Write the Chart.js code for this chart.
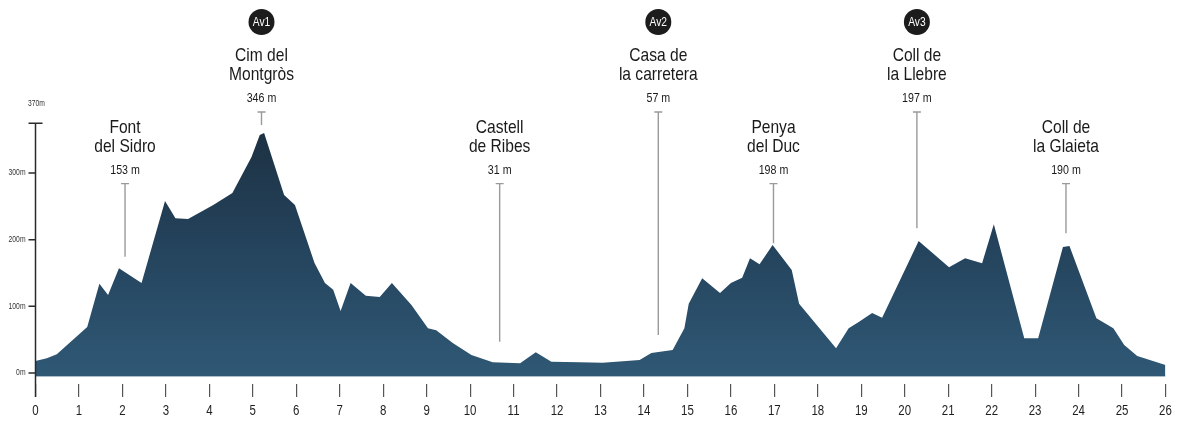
<!DOCTYPE html>
<html>
<head>
<meta charset="utf-8">
<script src="https://cdn.jsdelivr.net/npm/chart.js@4.4.1/dist/chart.umd.min.js"></script>
<style>
html,body{margin:0;padding:0;background:#fff;}
#wrap{width:1179px;height:435px;position:relative;}
</style>
</head>
<body>
<div id="wrap"><canvas id="c" width="1179" height="435"></canvas></div>
<script>
// ---- data ----
const distanceKm = [0, 0.26, 0.49, 1.19, 1.47, 1.67, 1.92, 2.44, 2.98, 3.22, 3.51, 4.09, 4.53, 4.97, 5.16, 5.26, 5.72, 5.97, 6.42, 6.66, 6.85, 7.02, 7.25, 7.60, 7.92, 8.20, 8.65, 9.03, 9.22, 9.60, 10.03, 10.52, 11.15, 11.51, 11.87, 12.52, 13.05, 13.9, 14.17, 14.66, 14.93, 15.03, 15.34, 15.75, 16.0, 16.26, 16.44, 16.66, 16.96, 17.40, 17.57, 18.42, 18.71, 18.95, 19.25, 19.48, 20.32, 21.02, 21.39, 21.78, 22.05, 22.75, 23.07, 23.64, 23.79, 24.41, 24.8, 25.05, 25.35, 26.0];
const elevationM = [18, 22, 28, 69, 134, 117, 157, 135, 258, 232, 231, 252, 270, 324, 357, 360, 267, 252, 165, 135, 125, 93, 135, 116, 114, 135, 102, 67, 64, 45, 27, 16, 14.5, 31, 17, 16, 15.5, 19.5, 30, 34.5, 67, 104, 142, 120, 135, 143, 172, 163, 192, 154.5, 104, 37, 67, 77, 90, 83, 198, 158.5, 172, 164.5, 223, 52, 52, 189, 190.5, 82, 67, 42, 25.5, 12];

const yTickValues = [0, 100, 200, 300];
const yTickLabels = ['0m', '100m', '200m', '300m'];
const yAxisTopValue = 370;
const yAxisTopLabel = '370m';

const markerKm = [2.06, 5.20, 10.68, 14.33, 16.98, 20.28, 23.71];
const markerNameLine1 = ['Font', 'Cim del', 'Castell', 'Casa de', 'Penya', 'Coll de', 'Coll de'];
const markerNameLine2 = ['del Sidro', 'Montgròs', 'de Ribes', 'la carretera', 'del Duc', 'la Llebre', 'la Glaieta'];
const markerElevLabel = ['153 m', '346 m', '31 m', '57 m', '198 m', '197 m', '190 m'];
const markerBadge = ['', 'Av1', '', 'Av2', '', 'Av3', ''];
const markerTopM = [284, 391.5, 284, 391.5, 284, 391.5, 284];
const markerEndM = [174.5, 372, 47, 57, 194.5, 217, 209.5];

const BASE_M = -4.5;
const FONT = '"Liberation Sans", Arial, sans-serif';

const profile = distanceKm.map((x, i) => ({x: x, y: elevationM[i]}));

function condText(ctx, text, x, y, size, sx, color, align) {
  ctx.save();
  ctx.font = size + 'px ' + FONT;
  ctx.fillStyle = color;
  ctx.textBaseline = 'middle';
  ctx.textAlign = align || 'center';
  ctx.translate(x, y);
  ctx.scale(sx, 1);
  ctx.fillText(text, 0, 0);
  ctx.restore();
}

const annotPlugin = {
  id: 'annot',
  afterDraw(chart) {
    const ctx = chart.ctx;
    const xs = chart.scales.x, ys = chart.scales.y;
    ctx.save();
    // x tick labels (values from the library's scale)
    xs.ticks.forEach(t => {
      condText(ctx, String(t.value), xs.getPixelForValue(t.value), 411, 15.5, 0.74, '#1e1e1e');
    });
    // y axis
    const ax = xs.getPixelForValue(0);
    const topY = ys.getPixelForValue(yAxisTopValue) - 3;
    const botY = xs.top + 13;
    ctx.strokeStyle = '#2a2a2a';
    ctx.lineWidth = 1.5;
    ctx.beginPath();
    ctx.moveTo(ax, topY); ctx.lineTo(ax, botY);
    ctx.moveTo(ax - 7, topY); ctx.lineTo(ax + 7, topY);
    yTickValues.forEach(v => {
      const py = ys.getPixelForValue(v);
      ctx.moveTo(ax - 7, py); ctx.lineTo(ax, py);
    });
    ctx.stroke();
    yTickValues.forEach((v, i) => {
      condText(ctx, yTickLabels[i], ax - 10, ys.getPixelForValue(v), 9, 0.75, '#333', 'right');
    });
    condText(ctx, yAxisTopLabel, ax + 1, topY - 20, 9, 0.75, '#333', 'center');

    // markers
    markerKm.forEach((km, i) => {
      const px = xs.getPixelForValue(km);
      const top = ys.getPixelForValue(markerTopM[i]);
      const end = ys.getPixelForValue(markerEndM[i]);
      ctx.strokeStyle = '#9a9a9a';
      ctx.lineWidth = 1.4;
      ctx.beginPath();
      ctx.moveTo(px, top); ctx.lineTo(px, end);
      ctx.moveTo(px - 4, top); ctx.lineTo(px + 4, top);
      ctx.stroke();
      condText(ctx, markerElevLabel[i], px, top - 13.5, 13, 0.82, '#1a1a1a');
      condText(ctx, markerNameLine2[i], px, top - 37, 19, 0.82, '#1a1a1a');
      condText(ctx, markerNameLine1[i], px, top - 56, 19, 0.82, '#1a1a1a');
      if (markerBadge[i]) {
        const cy = top - 90;
        ctx.fillStyle = '#1c1c1c';
        ctx.beginPath();
        ctx.arc(px, cy, 13, 0, Math.PI * 2);
        ctx.fill();
        condText(ctx, markerBadge[i], px, cy + 0.5, 12.5, 0.82, '#ffffff');
      }
    });
    ctx.restore();
  }
};

const ctx = document.getElementById('c').getContext('2d');
new Chart(ctx, {
  type: 'line',
  data: {
    datasets: [
      {
        label: 'Perfil',
        data: profile,
        fill: {value: BASE_M},
        borderWidth: 0,
        borderColor: 'rgba(0,0,0,0)',
        pointRadius: 0,
        tension: 0,
        backgroundColor: (context) => {
          const chart = context.chart;
          const area = chart.chartArea;
          if (!area) return '#26465e';
          const ys = chart.scales.y;
          const g = chart.ctx.createLinearGradient(0, ys.getPixelForValue(360), 0, ys.getPixelForValue(0));
          g.addColorStop(0, '#1d3243');
          g.addColorStop(0.45, '#24425b');
          g.addColorStop(1, '#2f5875');
          return g;
        }
      },
      {
        label: 'base',
        data: [{x: 0, y: BASE_M}, {x: 26, y: BASE_M}],
        fill: false,
        borderColor: '#8fa9ba',
        borderWidth: 1.5,
        pointRadius: 0
      }
    ]
  },
  options: {
    responsive: false,
    animation: false,
    devicePixelRatio: 1,
    layout: {padding: {left: 35.5, right: 13.5, top: 0, bottom: 0}},
    plugins: {legend: {display: false}, tooltip: {enabled: false}},
    scales: {
      x: {
        type: 'linear',
        min: 0,
        max: 26,
        ticks: {display: false, stepSize: 1, autoSkip: false, maxRotation: 0},
        grid: {drawOnChartArea: false, drawTicks: true, tickLength: 13, color: '#555', lineWidth: 1.2},
        border: {display: false},
        afterFit: (s) => { s.height = 51; }
      },
      y: {
        type: 'linear',
        display: false,
        min: -16.5,
        max: 559.5
      }
    }
  },
  plugins: [annotPlugin]
});
</script>
</body>
</html>
